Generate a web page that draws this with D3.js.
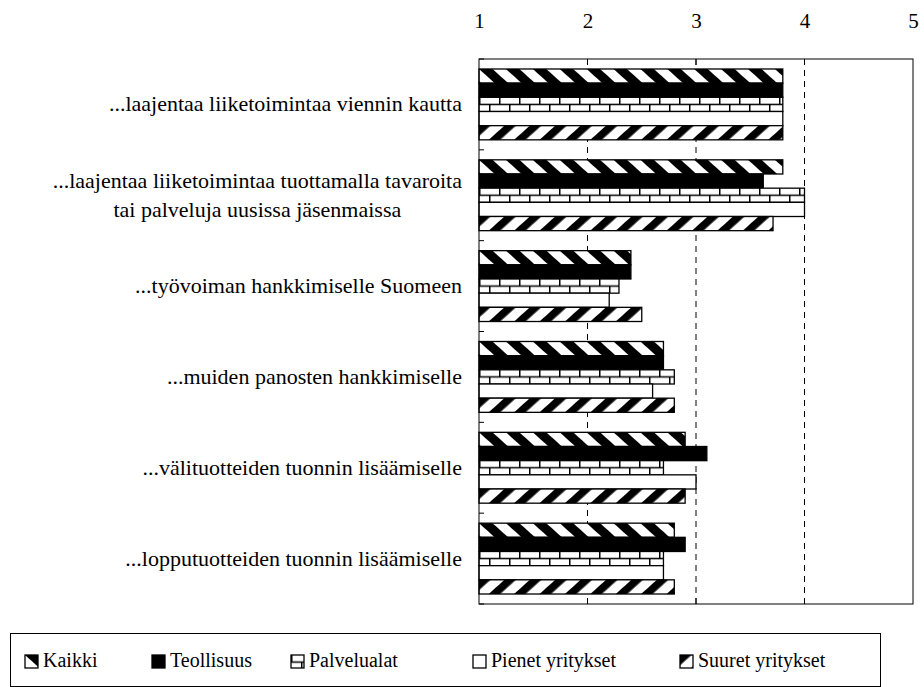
<!DOCTYPE html>
<html>
<head>
<meta charset="utf-8">
<script src="https://cdn.jsdelivr.net/npm/d3@7"></script>
<style>
  body { margin: 0; background: #fff; }
</style>
</head>
<body>
<svg id="chart" width="924" height="687" font-family="'Liberation Serif', 'DejaVu Serif', serif"></svg>
<script>
const categories = [
  ["...laajentaa liiketoimintaa viennin kautta"],
  ["...laajentaa liiketoimintaa tuottamalla tavaroita", "tai palveluja uusissa jäsenmaissa"],
  ["...työvoiman hankkimiselle Suomeen"],
  ["...muiden panosten hankkimiselle"],
  ["...välituotteiden tuonnin lisäämiselle"],
  ["...lopputuotteiden tuonnin lisäämiselle"]
];
const seriesNames = ["Kaikki", "Teollisuus", "Palvelualat", "Pienet yritykset", "Suuret yritykset"];
const kaikki      = [3.8, 3.8, 2.4, 2.7, 2.9, 2.8];
const teollisuus  = [3.8, 3.62, 2.4, 2.7, 3.1, 2.9];
const palvelualat = [3.8, 4.0, 2.29, 2.8, 2.7, 2.7];
const pienet      = [3.8, 4.0, 2.2, 2.6, 3.0, 2.7];
const suuret      = [3.8, 3.71, 2.5, 2.8, 2.9, 2.8];
const seriesValues = [kaikki, teollisuus, palvelualat, pienet, suuret];
const tickValues = [1, 2, 3, 4, 5];

const FONT = "'Liberation Serif', 'DejaVu Serif', serif";
const svg = d3.select("#chart");
const plot = { left: 479, right: 913, top: 59, bottom: 604 };

const x = d3.scaleLinear().domain([1, 5]).range([plot.left, plot.right]);
const y = d3.scaleBand().domain(d3.range(categories.length))
  .range([plot.top, plot.bottom]).paddingInner(0.22).paddingOuter(0.11);
const ys = d3.scaleBand().domain(d3.range(seriesNames.length)).range([0, y.bandwidth()]);
const step = (plot.bottom - plot.top) / categories.length;

// patterns
const defs = svg.append("defs");
const stripe = (id, angle, period, black) => {
  const p = defs.append("pattern").attr("id", id).attr("patternUnits", "userSpaceOnUse")
    .attr("width", period).attr("height", period)
    .attr("patternTransform", `rotate(${angle})`);
  p.append("rect").attr("width", period).attr("height", period).attr("fill", "#fff");
  p.append("rect").attr("width", period * black).attr("height", period).attr("fill", "#000");
};
stripe("pKaikki", -48, 18, 0.5);
stripe("pSuuret", 48, 17, 0.45);
const bh = ys.bandwidth();
const brick = defs.append("pattern").attr("id", "pPalvelu").attr("patternUnits", "userSpaceOnUse")
  .attr("width", 20).attr("height", bh);
brick.append("rect").attr("width", 20).attr("height", bh).attr("fill", "#fff");
brick.append("rect").attr("y", bh / 2 - 0.75).attr("width", 20).attr("height", 1.5).attr("fill", "#000");
brick.append("rect").attr("x", 0).attr("y", 0).attr("width", 1.5).attr("height", bh / 2).attr("fill", "#000");
brick.append("rect").attr("x", 10).attr("y", bh / 2).attr("width", 1.5).attr("height", bh / 2).attr("fill", "#000");
const fills = ["url(#pKaikki)", "#000", "url(#pPalvelu)", "#fff", "url(#pSuuret)"];

// gridlines
svg.append("g").selectAll("line").data(tickValues.slice(1, -1)).join("line")
  .attr("x1", d => x(d)).attr("x2", d => x(d))
  .attr("y1", plot.top).attr("y2", plot.bottom)
  .attr("stroke", "#000").attr("stroke-width", 1).attr("stroke-dasharray", "6,5");

// bars
const cat = svg.append("g").selectAll("g").data(categories).join("g")
  .attr("transform", (d, i) => `translate(0,${y(i)})`);
cat.each(function(d, ci) {
  const g = d3.select(this);
  seriesValues.forEach((vals, si) => {
    g.append("g").attr("transform", `translate(${x(1)},${ys(si)})`)
      .append("rect")
      .attr("x", 0).attr("y", 0)
      .attr("width", x(vals[ci]) - x(1)).attr("height", ys.bandwidth())
      .attr("fill", fills[si]).attr("stroke", "#000").attr("stroke-width", 1.3);
  });
});

// frame
svg.append("rect").attr("x", plot.left).attr("y", plot.top)
  .attr("width", plot.right - plot.left).attr("height", plot.bottom - plot.top)
  .attr("fill", "none").attr("stroke", "#000").attr("stroke-width", 1);

// top axis labels
const axTop = d3.axisTop(x).tickValues(tickValues).tickSize(0).tickPadding(0).tickFormat(d3.format("d"));
svg.append("g").attr("transform", "translate(0,28)").call(axTop)
  .attr("font-family", FONT).attr("font-size", 21)
  .call(g => g.select(".domain").remove());

// inner ticks top and bottom
const inner = tickValues.slice(1, -1);
svg.append("g").selectAll("line").data(inner).join("line")
  .attr("x1", d => x(d)).attr("x2", d => x(d)).attr("y1", plot.top).attr("y2", plot.top + 6)
  .attr("stroke", "#000");
svg.append("g").selectAll("line").data(inner).join("line")
  .attr("x1", d => x(d)).attr("x2", d => x(d)).attr("y1", plot.bottom).attr("y2", plot.bottom - 6)
  .attr("stroke", "#000");
// category separator ticks on left axis
svg.append("g").selectAll("line").data(d3.range(categories.length + 1)).join("line")
  .attr("x1", plot.left).attr("x2", plot.left + 5)
  .attr("y1", i => plot.top + i * step).attr("y2", i => plot.top + i * step)
  .attr("stroke", "#000");

// category labels: block right-aligned to axis, lines centered within block
const labelRight = 462;
const lineH = 29;
const labG = svg.append("g").attr("font-family", FONT).attr("font-size", 22);
categories.forEach((lines, i) => {
  const t = labG.append("text").attr("text-anchor", "middle")
    .attr("y", y(i) + y.bandwidth() / 2 - (lines.length - 1) * lineH / 2 + 7);
  const spans = t.selectAll("tspan").data(lines).join("tspan")
    .attr("dy", (d, k) => k === 0 ? 0 : lineH).text(d => d);
  let w = 0;
  spans.each(function() { w = Math.max(w, this.getComputedTextLength()); });
  spans.attr("x", labelRight - w / 2);
});

// legend
const lg = svg.append("g").attr("font-family", FONT);
lg.append("rect").attr("x", 10.5).attr("y", 633.5).attr("width", 870).attr("height", 53)
  .attr("fill", "#fff").attr("stroke", "#000");
const legX = [25, 152, 291, 473, 680];
const li = lg.selectAll("g.item").data(seriesNames).join("g").attr("class", "item")
  .attr("transform", (d, i) => `translate(${legX[i]},655)`);
li.append("rect").attr("width", 13).attr("height", 13)
  .attr("fill", (d, i) => fills[i]).attr("stroke", "#000").attr("stroke-width", 1.3);
li.append("text").attr("x", 18).attr("y", 12).attr("font-size", 20).text(d => d);
</script>
</body>
</html>
